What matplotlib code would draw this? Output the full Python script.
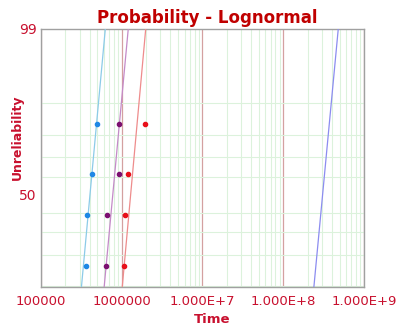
import numpy as np
import matplotlib
matplotlib.use('Agg')
import matplotlib.pyplot as plt
from matplotlib.ticker import FixedLocator, FixedFormatter, LogLocator, NullFormatter
from statistics import NormalDist

# unreliability (median ranks, %) of the plotted points
ranks = [15.9, 38.6, 61.4, 84.1]

# failure times of each data set
blue_times = [357000, 374000, 425000, 498000]
purple_times = [644000, 662000, 933000, 933000]
red_times = [1067000, 1107000, 1190000, 1950000]

# fitted lognormal lines: median time and sigma (log10 units)
fit_medians = [404000, 774000, 1288000, 3.07e8]
fit_sigmas = [0.0817, 0.0824, 0.0803, 0.0834]
fit_colors = ['#8ccbe8', '#c48ac8', '#ee8c8c', '#8c8cf0']
line_pcts = [5, 10, 50, 90, 99, 99.5]

x_ticks = [1e5, 1e6, 1e7, 1e8, 1e9]
x_labels = ['100000', '1000000', '1.000E+7', '1.000E+8', '1.000E+9']
y_ticks = [50, 99]
y_grid = [10, 20, 30, 40, 50, 60, 70, 80, 90]

nd = NormalDist()

def to_z(p):
    p = np.clip(np.asarray(p, dtype=float) / 100.0, 1e-6, 1 - 1e-6)
    return np.vectorize(nd.inv_cdf, otypes=[float])(p)

def from_z(z):
    return 100.0 * np.vectorize(nd.cdf, otypes=[float])(np.asarray(z, dtype=float))

red = '#c8102e'
title_red = '#c00000'
green = '#dcf2dc'

fig = plt.figure(figsize=(4.06, 3.31), dpi=100)
ax = fig.add_axes([41 / 406, 1 - 287 / 331, 323 / 406, 258 / 331])
ax.set_xscale('log')
ax.set_yscale('function', functions=(to_z, from_z))
ax.set_xlim(1e5, 1e9)
ax.set_ylim(9.8, 99)

# fitted lines
zs = to_z(line_pcts)
for med, sig, col in zip(fit_medians, fit_sigmas, fit_colors):
    xs = med * 10 ** (sig * zs)
    ax.plot(xs, line_pcts, color=col, lw=0.9, zorder=3)

# data points
ax.plot(blue_times, ranks, 'o', color='#1e88e5', ms=3, zorder=4)
ax.plot(purple_times, ranks, 'o', color='#7b1070', ms=3, zorder=4)
ax.plot(red_times, ranks, 'o', color='#e8101a', ms=3, zorder=4)

# axes, ticks and grid
ax.xaxis.set_major_locator(FixedLocator(x_ticks))
ax.xaxis.set_major_formatter(FixedFormatter(x_labels))
ax.xaxis.set_minor_locator(LogLocator(base=10, subs=np.arange(2, 10)))
ax.xaxis.set_minor_formatter(NullFormatter())
ax.yaxis.set_major_locator(FixedLocator(y_ticks))
ax.yaxis.set_major_formatter(FixedFormatter([str(v) for v in y_ticks]))
ax.yaxis.set_minor_locator(FixedLocator(y_grid))
ax.yaxis.set_minor_formatter(NullFormatter())

ax.xaxis.grid(True, which='minor', color=green, lw=0.8, zorder=0)
ax.xaxis.grid(True, which='major', color='#d4a0a0', lw=0.9, zorder=1)
ax.yaxis.grid(True, which='minor', color=green, lw=0.8, zorder=0)
ax.yaxis.grid(False, which='major')
ax.set_axisbelow(True)

ax.tick_params(which='both', length=0, labelcolor=red, labelsize=9.5)
ax.tick_params(axis='x', pad=6)
ax.tick_params(axis='y', pad=3, labelsize=10)
for s in ax.spines.values():
    s.set_color('#a0a0a0')
    s.set_linewidth(1.0)

ax.set_title('Probability - Lognormal', color=title_red, fontsize=12,
             fontweight='bold', x=0.514, pad=4)
ax.set_xlabel('Time', color=red, fontsize=9.5, fontweight='bold', labelpad=6)
ax.xaxis.set_label_coords(0.53, -0.1)
ax.set_ylabel('Unreliability', color=red, fontsize=9, fontweight='bold')
ax.yaxis.set_label_coords(-0.052, 0.58)

fig.savefig('out.png', dpi=100)
